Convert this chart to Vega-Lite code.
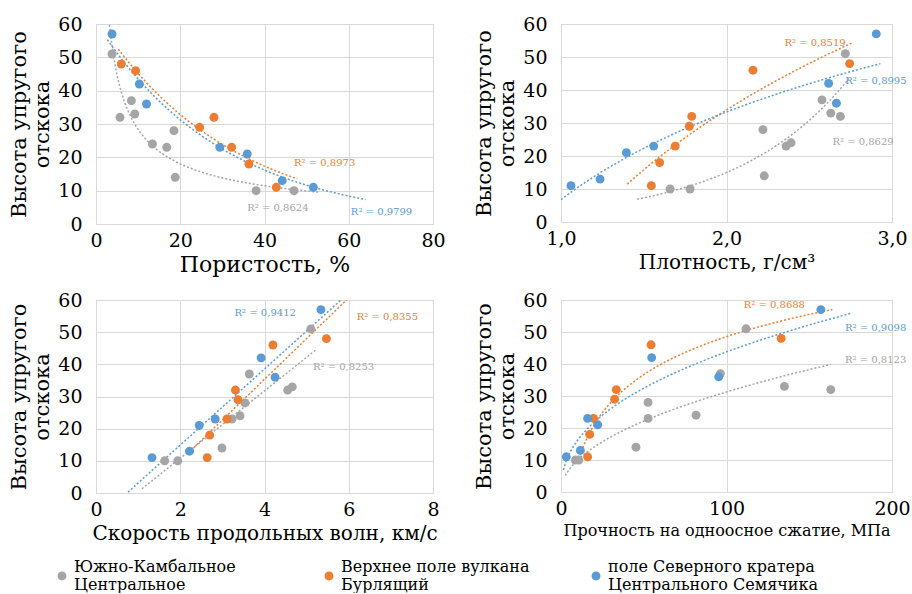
{
"$schema": "https://vega.github.io/schema/vega-lite/v6.json",
"padding": {"left": 8, "top": 15, "right": 0, "bottom": 0},
"config": {
 "font": "DejaVu Serif",
 "view": {"stroke": null},
 "axis": {"grid": true, "gridColor": "#d9d9d9", "domainColor": "#d9d9d9", "ticks": false, "labelFont": "DejaVu Serif", "labelFontSize": 19, "labelColor": "#000", "titleFont": "DejaVu Serif", "titleFontSize": 21, "titleFontWeight": "normal", "titleColor": "#000", "labelFlush": false, "labelOverlap": false},
 "axisX": {"labelPadding": 7, "titlePadding": 4},
 "axisY": {"labelPadding": 14, "titlePadding": 5}
},
"datasets": {
 "pts": [
  {"p":1,"s":"Южно-Камбальное|Центральное","x":3.8,"y":51},
  {"p":1,"s":"Южно-Камбальное|Центральное","x":5.7,"y":32},
  {"p":1,"s":"Южно-Камбальное|Центральное","x":8.4,"y":37},
  {"p":1,"s":"Южно-Камбальное|Центральное","x":9.2,"y":33},
  {"p":1,"s":"Южно-Камбальное|Центральное","x":13.4,"y":24},
  {"p":1,"s":"Южно-Камбальное|Центральное","x":16.8,"y":23},
  {"p":1,"s":"Южно-Камбальное|Центральное","x":18.5,"y":28},
  {"p":1,"s":"Южно-Камбальное|Центральное","x":18.8,"y":14},
  {"p":1,"s":"Южно-Камбальное|Центральное","x":38,"y":10},
  {"p":1,"s":"Южно-Камбальное|Центральное","x":47,"y":10},
  {"p":1,"s":"Верхнее поле вулкана|Бурлящий","x":6,"y":48},
  {"p":1,"s":"Верхнее поле вулкана|Бурлящий","x":9.4,"y":46},
  {"p":1,"s":"Верхнее поле вулкана|Бурлящий","x":24.6,"y":29},
  {"p":1,"s":"Верхнее поле вулкана|Бурлящий","x":28,"y":32},
  {"p":1,"s":"Верхнее поле вулкана|Бурлящий","x":32.2,"y":23},
  {"p":1,"s":"Верхнее поле вулкана|Бурлящий","x":36.3,"y":18},
  {"p":1,"s":"Верхнее поле вулкана|Бурлящий","x":42.8,"y":11},
  {"p":1,"s":"поле Северного кратера|Центрального Семячика","x":3.8,"y":57},
  {"p":1,"s":"поле Северного кратера|Центрального Семячика","x":10.3,"y":42},
  {"p":1,"s":"поле Северного кратера|Центрального Семячика","x":12,"y":36},
  {"p":1,"s":"поле Северного кратера|Центрального Семячика","x":29.4,"y":23},
  {"p":1,"s":"поле Северного кратера|Центрального Семячика","x":35.9,"y":21},
  {"p":1,"s":"поле Северного кратера|Центрального Семячика","x":44.2,"y":13},
  {"p":1,"s":"поле Северного кратера|Центрального Семячика","x":51.6,"y":11},

  {"p":2,"s":"Южно-Камбальное|Центральное","x":1.659,"y":10},
  {"p":2,"s":"Южно-Камбальное|Центральное","x":1.78,"y":10},
  {"p":2,"s":"Южно-Камбальное|Центральное","x":2.22,"y":28},
  {"p":2,"s":"Южно-Камбальное|Центральное","x":2.228,"y":14},
  {"p":2,"s":"Южно-Камбальное|Центральное","x":2.36,"y":23},
  {"p":2,"s":"Южно-Камбальное|Центральное","x":2.39,"y":24},
  {"p":2,"s":"Южно-Камбальное|Центральное","x":2.577,"y":37},
  {"p":2,"s":"Южно-Камбальное|Центральное","x":2.63,"y":33},
  {"p":2,"s":"Южно-Камбальное|Центральное","x":2.688,"y":32},
  {"p":2,"s":"Южно-Камбальное|Центральное","x":2.718,"y":51},
  {"p":2,"s":"Верхнее поле вулкана|Бурлящий","x":1.546,"y":11},
  {"p":2,"s":"Верхнее поле вулкана|Бурлящий","x":1.596,"y":18},
  {"p":2,"s":"Верхнее поле вулкана|Бурлящий","x":1.69,"y":23},
  {"p":2,"s":"Верхнее поле вулкана|Бурлящий","x":1.775,"y":29},
  {"p":2,"s":"Верхнее поле вулкана|Бурлящий","x":1.79,"y":32},
  {"p":2,"s":"Верхнее поле вулкана|Бурлящий","x":2.16,"y":46},
  {"p":2,"s":"Верхнее поле вулкана|Бурлящий","x":2.744,"y":48},
  {"p":2,"s":"поле Северного кратера|Центрального Семячика","x":1.06,"y":11},
  {"p":2,"s":"поле Северного кратера|Центрального Семячика","x":1.236,"y":13},
  {"p":2,"s":"поле Северного кратера|Центрального Семячика","x":1.395,"y":21},
  {"p":2,"s":"поле Северного кратера|Центрального Семячика","x":1.56,"y":23},
  {"p":2,"s":"поле Северного кратера|Центрального Семячика","x":2.617,"y":42},
  {"p":2,"s":"поле Северного кратера|Центрального Семячика","x":2.664,"y":36},
  {"p":2,"s":"поле Северного кратера|Центрального Семячика","x":2.905,"y":57},

  {"p":3,"s":"Южно-Камбальное|Центральное","x":1.63,"y":10},
  {"p":3,"s":"Южно-Камбальное|Центральное","x":1.94,"y":10},
  {"p":3,"s":"Южно-Камбальное|Центральное","x":2.99,"y":14},
  {"p":3,"s":"Южно-Камбальное|Центральное","x":3.23,"y":23},
  {"p":3,"s":"Южно-Камбальное|Центральное","x":3.42,"y":24},
  {"p":3,"s":"Южно-Камбальное|Центральное","x":3.54,"y":28},
  {"p":3,"s":"Южно-Камбальное|Центральное","x":3.64,"y":37},
  {"p":3,"s":"Южно-Камбальное|Центральное","x":4.55,"y":32},
  {"p":3,"s":"Южно-Камбальное|Центральное","x":4.66,"y":33},
  {"p":3,"s":"Южно-Камбальное|Центральное","x":5.1,"y":51},
  {"p":3,"s":"Верхнее поле вулкана|Бурлящий","x":2.64,"y":11},
  {"p":3,"s":"Верхнее поле вулкана|Бурлящий","x":2.7,"y":18},
  {"p":3,"s":"Верхнее поле вулкана|Бурлящий","x":3.11,"y":23},
  {"p":3,"s":"Верхнее поле вулкана|Бурлящий","x":3.31,"y":32},
  {"p":3,"s":"Верхнее поле вулкана|Бурлящий","x":3.37,"y":29},
  {"p":3,"s":"Верхнее поле вулкана|Бурлящий","x":4.2,"y":46},
  {"p":3,"s":"Верхнее поле вулкана|Бурлящий","x":5.47,"y":48},
  {"p":3,"s":"поле Северного кратера|Центрального Семячика","x":1.33,"y":11},
  {"p":3,"s":"поле Северного кратера|Центрального Семячика","x":2.22,"y":13},
  {"p":3,"s":"поле Северного кратера|Центрального Семячика","x":2.45,"y":21},
  {"p":3,"s":"поле Северного кратера|Центрального Семячика","x":2.83,"y":23},
  {"p":3,"s":"поле Северного кратера|Центрального Семячика","x":3.92,"y":42},
  {"p":3,"s":"поле Северного кратера|Центрального Семячика","x":4.25,"y":36},
  {"p":3,"s":"поле Северного кратера|Центрального Семячика","x":5.34,"y":57},

  {"p":4,"s":"Южно-Камбальное|Центральное","x":8.7,"y":10},
  {"p":4,"s":"Южно-Камбальное|Центральное","x":10.7,"y":10},
  {"p":4,"s":"Южно-Камбальное|Центральное","x":45.3,"y":14},
  {"p":4,"s":"Южно-Камбальное|Центральное","x":52.6,"y":23},
  {"p":4,"s":"Южно-Камбальное|Центральное","x":52.6,"y":28},
  {"p":4,"s":"Южно-Камбальное|Центральное","x":81.6,"y":24},
  {"p":4,"s":"Южно-Камбальное|Центральное","x":96.3,"y":37},
  {"p":4,"s":"Южно-Камбальное|Центральное","x":111.8,"y":51},
  {"p":4,"s":"Южно-Камбальное|Центральное","x":135,"y":33},
  {"p":4,"s":"Южно-Камбальное|Центральное","x":163,"y":32},
  {"p":4,"s":"Верхнее поле вулкана|Бурлящий","x":16.1,"y":11},
  {"p":4,"s":"Верхнее поле вулкана|Бурлящий","x":17.3,"y":18},
  {"p":4,"s":"Верхнее поле вулкана|Бурлящий","x":19.7,"y":23},
  {"p":4,"s":"Верхнее поле вулкана|Бурлящий","x":32.4,"y":29},
  {"p":4,"s":"Верхнее поле вулкана|Бурлящий","x":33.4,"y":32},
  {"p":4,"s":"Верхнее поле вулкана|Бурлящий","x":54.4,"y":46},
  {"p":4,"s":"Верхнее поле вулкана|Бурлящий","x":133,"y":48},
  {"p":4,"s":"поле Северного кратера|Центрального Семячика","x":3.2,"y":11},
  {"p":4,"s":"поле Северного кратера|Центрального Семячика","x":11.7,"y":13},
  {"p":4,"s":"поле Северного кратера|Центрального Семячика","x":16.1,"y":23},
  {"p":4,"s":"поле Северного кратера|Центрального Семячика","x":22.2,"y":21},
  {"p":4,"s":"поле Северного кратера|Центрального Семячика","x":54.8,"y":42},
  {"p":4,"s":"поле Северного кратера|Центрального Семячика","x":95.3,"y":36},
  {"p":4,"s":"поле Северного кратера|Центрального Семячика","x":157,"y":57}
 ],
 "lbl": [
  {"p":1,"s":"Верхнее поле вулкана|Бурлящий","x":47,"y":18.4,"t":"R² = 0,8973"},
  {"p":1,"s":"Южно-Камбальное|Центральное","x":35.9,"y":4.8,"t":"R² = 0,8624"},
  {"p":1,"s":"поле Северного кратера|Центрального Семячика","x":60.5,"y":3.5,"t":"R² = 0,9799"},
  {"p":2,"s":"Верхнее поле вулкана|Бурлящий","x":2.35,"y":54.3,"t":"R² = 0,8519"},
  {"p":2,"s":"поле Северного кратера|Центрального Семячика","x":2.718,"y":42.6,"t":"R² = 0,8995"},
  {"p":2,"s":"Южно-Камбальное|Центральное","x":2.64,"y":24.2,"t":"R² = 0,8629"},
  {"p":3,"s":"поле Северного кратера|Центрального Семячика","x":3.29,"y":55.9,"t":"R² = 0,9412"},
  {"p":3,"s":"Верхнее поле вулкана|Бурлящий","x":6.19,"y":54.6,"t":"R² = 0,8355"},
  {"p":3,"s":"Южно-Камбальное|Центральное","x":5.15,"y":39.3,"t":"R² = 0,8253"},
  {"p":4,"s":"Верхнее поле вулкана|Бурлящий","x":110.4,"y":58.3,"t":"R² = 0,8688"},
  {"p":4,"s":"поле Северного кратера|Центрального Семячика","x":171.6,"y":51.3,"t":"R² = 0,9098"},
  {"p":4,"s":"Южно-Камбальное|Центральное","x":171.6,"y":41.3,"t":"R² = 0,8123"}
 ]
},
"columns": 2,
"spacing": {"row": 16, "column": 27},
"concat": [
 {
  "width": 337, "height": 200,
  "encoding": {
   "x": {"field": "x", "type": "quantitative", "scale": {"domain": [0, 80], "nice": false, "zero": false}, "axis": {"values": [0, 20, 40, 60, 80], "title": "Пористость, %", "titleFontSize": 22}},
   "y": {"field": "y", "type": "quantitative", "scale": {"domain": [0, 60], "nice": false}, "axis": {"values": [0, 10, 20, 30, 40, 50, 60], "title": ["Высота упругого", "отскока"]}}
  },
  "layer": [
   {"data": {"name": "pts"}, "transform": [{"filter": "datum.p==1 && datum.s=='Южно-Камбальное|Центральное'"}, {"regression": "y", "on": "x", "method": "pow", "extent": [3.2, 53]}], "mark": {"type": "line", "color": "#A5A5A5", "strokeDash": [2, 2], "strokeWidth": 1.5, "clip": true}},
   {"data": {"name": "pts"}, "transform": [{"filter": "datum.p==1 && datum.s=='Верхнее поле вулкана|Бурлящий'"}, {"regression": "y", "on": "x", "method": "exp", "extent": [5.3, 47.8]}], "mark": {"type": "line", "color": "#ED7D31", "strokeDash": [2, 2], "strokeWidth": 1.5, "clip": true}},
   {"data": {"name": "pts"}, "transform": [{"filter": "datum.p==1 && datum.s=='поле Северного кратера|Центрального Семячика'"}, {"regression": "y", "on": "x", "method": "exp", "extent": [2.7, 64]}], "mark": {"type": "line", "color": "#5B9BD5", "strokeDash": [2, 2], "strokeWidth": 1.5, "clip": true}},
   {"data": {"name": "pts"}, "transform": [{"filter": "datum.p==1"}], "mark": {"type": "circle", "size": 80, "opacity": 1},
    "encoding": {"color": {"field": "s", "type": "nominal",
     "scale": {"domain": ["Южно-Камбальное|Центральное", "Верхнее поле вулкана|Бурлящий", "поле Северного кратера|Центрального Семячика"], "range": ["#A5A5A5", "#ED7D31", "#5B9BD5"]},
     "legend": {"orient": "none", "legendX": -42, "legendY": 535, "direction": "horizontal", "columns": 3, "title": null, "labelExpr": "split(datum.label, '|')", "labelFont": "DejaVu Serif", "labelFontSize": 16, "labelColor": "#000", "symbolType": "M -1 2 A 1 1 0 1 0 1 2 A 1 1 0 1 0 -1 2 Z", "symbolSize": 80, "symbolStrokeWidth": 0, "symbolOpacity": 1, "gridAlign": "all", "columnPadding": 36, "labelLimit": 400}}}},
   {"data": {"name": "lbl"}, "transform": [{"filter": "datum.p==1"}], "mark": {"type": "text", "align": "left", "baseline": "middle", "fontSize": 10},
    "encoding": {"text": {"field": "t"}, "color": {"field": "s", "type": "nominal", "legend": null}}}
  ]
 },
 {
  "width": 331, "height": 198,
  "encoding": {
   "x": {"field": "x", "type": "quantitative", "scale": {"domain": [1, 3], "nice": false, "zero": false}, "axis": {"values": [1, 2, 3], "labelExpr": "replace(format(datum.value, '.1f'), '.', ',')", "title": "Плотность, г/см³", "titleFontSize": 20}},
   "y": {"field": "y", "type": "quantitative", "scale": {"domain": [0, 60], "nice": false}, "axis": {"values": [0, 10, 20, 30, 40, 50, 60], "title": ["Высота упругого", "отскока"]}}
  },
  "layer": [
   {"data": {"name": "pts"}, "transform": [{"filter": "datum.p==2 && datum.s=='Южно-Камбальное|Центральное'"}, {"regression": "y", "on": "x", "method": "exp", "extent": [1.46, 2.74]}], "mark": {"type": "line", "color": "#A5A5A5", "strokeDash": [2, 2], "strokeWidth": 1.5, "clip": true}},
   {"data": {"name": "pts"}, "transform": [{"filter": "datum.p==2 && datum.s=='Верхнее поле вулкана|Бурлящий'"}, {"regression": "y", "on": "x", "method": "log", "extent": [1.4, 2.76]}], "mark": {"type": "line", "color": "#ED7D31", "strokeDash": [2, 2], "strokeWidth": 1.5, "clip": true}},
   {"data": {"name": "pts"}, "transform": [{"filter": "datum.p==2 && datum.s=='поле Северного кратера|Центрального Семячика'"}, {"regression": "y", "on": "x", "method": "log", "extent": [1.0, 2.93]}], "mark": {"type": "line", "color": "#5B9BD5", "strokeDash": [2, 2], "strokeWidth": 1.5, "clip": true}},
   {"data": {"name": "pts"}, "transform": [{"filter": "datum.p==2"}], "mark": {"type": "circle", "size": 80, "opacity": 1},
    "encoding": {"color": {"field": "s", "type": "nominal", "legend": null}}},
   {"data": {"name": "lbl"}, "transform": [{"filter": "datum.p==2"}], "mark": {"type": "text", "align": "left", "baseline": "middle", "fontSize": 10},
    "encoding": {"text": {"field": "t"}, "color": {"field": "s", "type": "nominal", "legend": null}}}
  ]
 },
 {
  "width": 337, "height": 193,
  "encoding": {
   "x": {"field": "x", "type": "quantitative", "scale": {"domain": [0, 8], "nice": false, "zero": false}, "axis": {"values": [0, 2, 4, 6, 8], "title": "Скорость продольных волн, км/с", "titleFontSize": 20}},
   "y": {"field": "y", "type": "quantitative", "scale": {"domain": [0, 60], "nice": false}, "axis": {"values": [0, 10, 20, 30, 40, 50, 60], "title": ["Высота упругого", "отскока"]}}
  },
  "layer": [
   {"data": {"name": "pts"}, "transform": [{"filter": "datum.p==3 && datum.s=='Южно-Камбальное|Центральное'"}, {"regression": "y", "on": "x", "method": "linear", "extent": [1.09, 5.24]}], "mark": {"type": "line", "color": "#A5A5A5", "strokeDash": [2, 2], "strokeWidth": 1.5, "clip": true}},
   {"data": {"name": "pts"}, "transform": [{"filter": "datum.p==3 && datum.s=='Верхнее поле вулкана|Бурлящий'"}, {"regression": "y", "on": "x", "method": "linear", "extent": [2.25, 6.1]}], "mark": {"type": "line", "color": "#ED7D31", "strokeDash": [2, 2], "strokeWidth": 1.5, "clip": true}},
   {"data": {"name": "pts"}, "transform": [{"filter": "datum.p==3 && datum.s=='поле Северного кратера|Центрального Семячика'"}, {"regression": "y", "on": "x", "method": "linear", "extent": [0.76, 6.0]}], "mark": {"type": "line", "color": "#5B9BD5", "strokeDash": [2, 2], "strokeWidth": 1.5, "clip": true}},
   {"data": {"name": "pts"}, "transform": [{"filter": "datum.p==3"}], "mark": {"type": "circle", "size": 80, "opacity": 1},
    "encoding": {"color": {"field": "s", "type": "nominal", "legend": null}}},
   {"data": {"name": "lbl"}, "transform": [{"filter": "datum.p==3"}], "mark": {"type": "text", "align": "left", "baseline": "middle", "fontSize": 10},
    "encoding": {"text": {"field": "t"}, "color": {"field": "s", "type": "nominal", "legend": null}}}
  ]
 },
 {
  "width": 331, "height": 192,
  "encoding": {
   "x": {"field": "x", "type": "quantitative", "scale": {"domain": [0, 200], "nice": false, "zero": false}, "axis": {"values": [0, 100, 200], "title": "Прочность на одноосное сжатие, МПа", "titleFontSize": 16}},
   "y": {"field": "y", "type": "quantitative", "scale": {"domain": [0, 60], "nice": false}, "axis": {"values": [0, 10, 20, 30, 40, 50, 60], "title": ["Высота упругого", "отскока"]}}
  },
  "layer": [
   {"data": {"name": "pts"}, "transform": [{"filter": "datum.p==4 && datum.s=='Южно-Камбальное|Центральное'"}, {"regression": "y", "on": "x", "method": "pow", "extent": [2.6, 163]}], "mark": {"type": "line", "color": "#A5A5A5", "strokeDash": [2, 2], "strokeWidth": 1.5, "clip": true}},
   {"data": {"name": "pts"}, "transform": [{"filter": "datum.p==4 && datum.s=='Верхнее поле вулкана|Бурлящий'"}, {"regression": "y", "on": "x", "method": "log", "extent": [10, 164]}], "mark": {"type": "line", "color": "#ED7D31", "strokeDash": [2, 2], "strokeWidth": 1.5, "clip": true}},
   {"data": {"name": "pts"}, "transform": [{"filter": "datum.p==4 && datum.s=='поле Северного кратера|Центрального Семячика'"}, {"regression": "y", "on": "x", "method": "pow", "extent": [1.4, 176]}], "mark": {"type": "line", "color": "#5B9BD5", "strokeDash": [2, 2], "strokeWidth": 1.5, "clip": true}},
   {"data": {"name": "pts"}, "transform": [{"filter": "datum.p==4"}], "mark": {"type": "circle", "size": 80, "opacity": 1},
    "encoding": {"color": {"field": "s", "type": "nominal", "legend": null}}},
   {"data": {"name": "lbl"}, "transform": [{"filter": "datum.p==4"}], "mark": {"type": "text", "align": "left", "baseline": "middle", "fontSize": 10},
    "encoding": {"text": {"field": "t"}, "color": {"field": "s", "type": "nominal", "legend": null}}}
  ]
 }
]
}
